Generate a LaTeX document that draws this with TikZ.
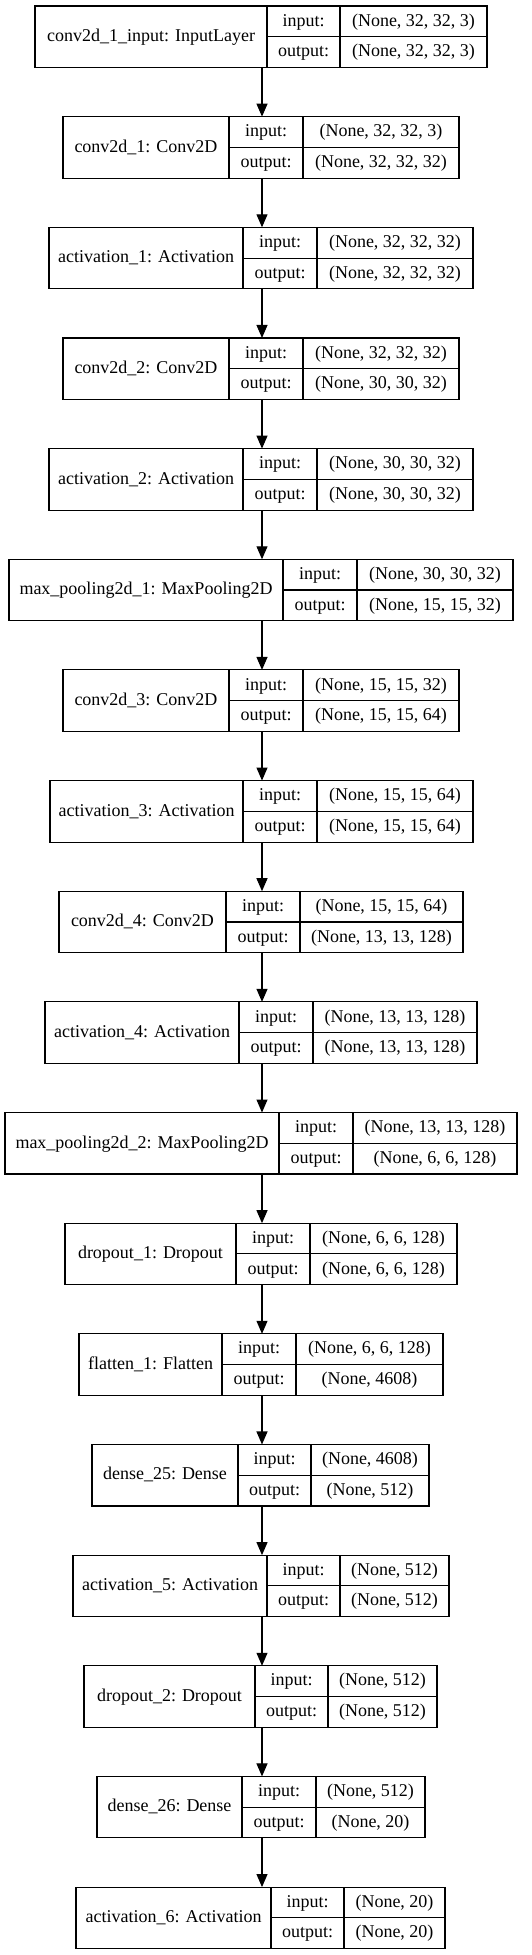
\documentclass[tikz,border=0pt]{standalone}
\usepackage{fontspec}
\setmainfont{Liberation Serif}
\usetikzlibrary{arrows.meta}
\tikzset{
  boxframe/.style={draw=black, line width=1.1pt, inner sep=0pt, outer sep=0pt, anchor=north west, minimum height=61.5pt},
  cellline/.style={draw=black, line width=1.1pt},
  txt/.style={font=\fontsize{18}{20}\selectfont, inner sep=0pt, text height=12pt, text depth=2.5pt},
  arr/.style={draw=black, line width=1.1pt, -{Triangle[length=13pt,width=11pt]}}
}
\newcommand\layerbox[9]{%
  \pgfmathsetmacro\ltop{6+110.65*#2}%
  \pgfmathsetmacro\lbot{\ltop+61.5}%
  \pgfmathsetmacro\lmid{\ltop+30.75}%
  \pgfmathsetmacro\lw{#6-#3}%
  \node[boxframe, minimum width=\lw pt] (#1) at (#3,\ltop) {};
  \draw[cellline] (#4,\ltop) -- (#4,\lbot);
  \draw[cellline] (#5,\ltop) -- (#5,\lbot);
  \draw[cellline] (#4,\lmid) -- (#6,\lmid);
  \node[txt] (#1-l) at ({(#3+#4)/2},\lmid) {#7};
  \node[txt] (#1-ik) at ({(#4+#5)/2},{\ltop+15.4}) {input:};
  \node[txt] (#1-ok) at ({(#4+#5)/2},{\ltop+46.1}) {output:};
  \node[txt] (#1-iv) at ({(#5+#6)/2},{\ltop+15.4}) {#8};
  \node[txt] (#1-ov) at ({(#5+#6)/2},{\ltop+46.1}) {#9};
}
\begin{document}
\begin{tikzpicture}[x=1pt, y=-1pt]
\useasboundingbox[fill=white] (0,0) rectangle (531,1955);
\coordinate (ax) at (262,0);
\layerbox{n0}{0}{35}{267}{340}{487}{conv2d\_1\_input: InputLayer}{(None, 32, 32, 3)}{(None, 32, 32, 3)}
\layerbox{n1}{1}{63}{229}{303}{459}{conv2d\_1: Conv2D}{(None, 32, 32, 3)}{(None, 32, 32, 32)}
\layerbox{n2}{2}{49}{243}{317}{473}{activation\_1: Activation}{(None, 32, 32, 32)}{(None, 32, 32, 32)}
\layerbox{n3}{3}{63}{229}{303}{459}{conv2d\_2: Conv2D}{(None, 32, 32, 32)}{(None, 30, 30, 32)}
\layerbox{n4}{4}{49}{243}{317}{473}{activation\_2: Activation}{(None, 30, 30, 32)}{(None, 30, 30, 32)}
\layerbox{n5}{5}{9}{283}{357}{513}{max\_pooling2d\_1: MaxPooling2D}{(None, 30, 30, 32)}{(None, 15, 15, 32)}
\layerbox{n6}{6}{63}{229}{303}{459}{conv2d\_3: Conv2D}{(None, 15, 15, 32)}{(None, 15, 15, 64)}
\layerbox{n7}{7}{50}{243}{317}{473}{activation\_3: Activation}{(None, 15, 15, 64)}{(None, 15, 15, 64)}
\layerbox{n8}{8}{59}{226}{300}{463}{conv2d\_4: Conv2D}{(None, 15, 15, 64)}{(None, 13, 13, 128)}
\layerbox{n9}{9}{45}{239}{313}{477}{activation\_4: Activation}{(None, 13, 13, 128)}{(None, 13, 13, 128)}
\layerbox{n10}{10}{5}{279}{353}{517}{max\_pooling2d\_2: MaxPooling2D}{(None, 13, 13, 128)}{(None, 6, 6, 128)}
\layerbox{n11}{11}{65}{236}{310}{457}{dropout\_1: Dropout}{(None, 6, 6, 128)}{(None, 6, 6, 128)}
\layerbox{n12}{12}{79}{222}{296}{443}{flatten\_1: Flatten}{(None, 6, 6, 128)}{(None, 4608)}
\layerbox{n13}{13}{92}{238}{311}{429}{dense\_25: Dense}{(None, 4608)}{(None, 512)}
\layerbox{n14}{14}{73}{267}{340}{449}{activation\_5: Activation}{(None, 512)}{(None, 512)}
\layerbox{n15}{15}{84}{255}{328}{437}{dropout\_2: Dropout}{(None, 512)}{(None, 512)}
\layerbox{n16}{16}{97}{242}{316}{425}{dense\_26: Dense}{(None, 512)}{(None, 20)}
\layerbox{n17}{17}{76}{271}{344}{445}{activation\_6: Activation}{(None, 20)}{(None, 20)}
\foreach \i [evaluate=\i as \j using int(\i+1)] in {0,...,16}{
  \draw[arr] (n\i.south -| ax) -- (n\j.north -| ax);
}
\end{tikzpicture}
\end{document}
